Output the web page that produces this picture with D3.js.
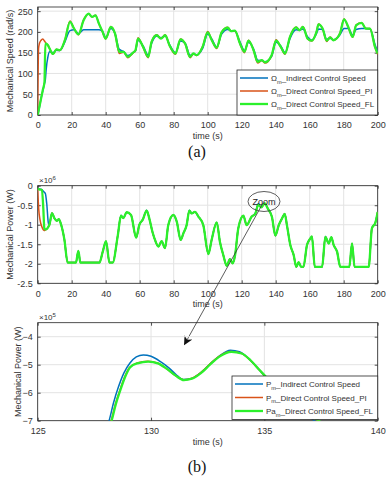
<!DOCTYPE html>
<html><head><meta charset="utf-8">
<script src="https://cdn.jsdelivr.net/npm/d3@7/dist/d3.min.js"></script>
<style>
html,body{margin:0;padding:0;background:#fff;}
svg{display:block;font-family:"Liberation Sans",Arial,sans-serif;}
</style></head>
<body><svg id="c" width="390" height="480"></svg>
<script>
// ---------- DATA ----------
const speedTime = [0,0.5,1,2,3,4,4.5,5,6,7, 9,11,13,16,19,21.4,24,27,30,32, 34,36,38,40,43,45.5,48,50.5,53,56, 57.5,59,62,65,67,70,72.5,75,77.5,81, 84,86.7,89.6,91.6,93.5,97,100,102.4,105.3,108.2, 111.8,113.7,116,119,121.6,124,127,129.4,131.8,133.7, 137.6,140.2,143,145.5,148.4,152,154,156,158.8,161.2, 164,165.2,167.6,170,172,174,177.8,180.2,182.7,185.3, 187.3,190.6,193,195.5,198.4,200];
const speedIndirect = [0,8,18,40,58,76,85,110,140,152, 150,156,155,176,203,205,196,205,205,205, 205,205,202,186,208,196,158,153,143,150, 154,180,166,144,172,190,186,190,170,150, 178,173,144,147,145,160,195,183,164,195, 206,203,202,176,155,175,159,132,131,128, 141,175,166,150,184,205,204,207,188,180, 196,207,206,182,185,181,193,208,208,192, 206,208,208,207,170,152];
const speedPI = [0,160,172,180,183,178,175,172,168,160, 146,158,155,181,226,208,193,229,244,236, 240,220,201,183,213,195,148,151,138,149, 155,186,163,138,177,193,184,193,167,146, 183,171,138,147,143,165,201,180,160,200, 211,202,203,171,150,180,155,125,131,125, 143,181,163,146,189,212,204,213,183,178, 201,219,207,177,188,180,197,231,211,187, 217,222,208,208,163,146];
const speedFL = [0,10,20,40,60,80,172,172,168,160, 147,158,156,180,224,208,194,228,244,236, 240,220,202,184,212,196,152,152,140,150, 156,184,164,140,176,192,184,192,168,148, 182,172,140,148,144,164,199,180,162,199, 210,202,203,172,152,179,156,128,132,127, 144,179,164,148,188,211,204,212,184,179, 200,218,208,179,187,180,196,230,212,188, 216,222,208,208,164,148];

// power in units of 1e6 W
const powerTime = [0,0.6,1.4,2.5,3.3,3.9,4.5,5.3,6.3,6.9, 8.4,9.8,11.2,12.4,13.8,15.7,17.6,22.5,23.9,25.1, 36.3,38.2,40.2,42.2,44.1,47.1,49,50.4,52.3,54.9, 57.9,59.8,61.8,64.1,65.7,67.6,69,71,72.9,74.9, 76.8,79.8,81.8,84.1,85.7,87.6,89.2,90.6,92.5,94.5, 97.4,100.4,102.3,105.3,107.2,109.2,111.2,113.1,114.7,116.1, 118,121,122.9,125.9,128,129.7,131.5,133.5,135.5,137.8, 139.8,141.8,143.7,145.3,146.6,148.6,150.6,152.1,153.5,155, 156.3,158.4,160.4,161.3,163,167.3,169.2,171.2,172.7,174.1, 176.1,178,183.3,184.9,186.4,194.7,196.6,198.6,200];
const powerIndirect = [-0.07,-0.08,-0.09,-0.1,-0.14,-0.17,-0.2,-0.45,-0.96,-1.0, -0.7,-0.83,-0.9,-0.86,-1.0,-1.38,-1.97,-1.97,-1.67,-1.97, -1.97,-1.7,-1.42,-1.97,-1.97,-1.28,-0.76,-0.83,-0.68,-0.75, -1.33,-1.0,-0.87,-0.63,-0.85,-1.2,-1.39,-1.56,-1.42,-1.6, -1.01,-0.75,-0.92,-1.39,-1.22,-1.01,-0.63,-0.71,-0.67,-0.79, -1.01,-1.75,-1.39,-0.94,-1.44,-1.78,-2.05,-1.88,-1.99,-1.78, -1.09,-0.77,-1.01,-0.79,-0.7,-0.465,-0.553,-0.448,-0.59,-0.8, -1.28,-1.01,-0.84,-0.72,-1.01,-1.52,-1.78,-2.08,-1.96,-2.08, -2.08,-1.52,-1.35,-1.3,-2.08,-2.08,-1.3,-1.48,-1.32,-1.52, -1.69,-2.08,-2.08,-1.48,-2.08,-2.08,-1.09,-0.95,-0.67];
const powerPI = [-0.07,-0.6,-0.88,-1.06,-1.13,-1.15,-1.13,-1.11,-1.05,-1.0, -0.7,-0.83,-0.9,-0.86,-1.0,-1.38,-1.97,-1.97,-1.67,-1.97, -1.97,-1.7,-1.42,-1.97,-1.97,-1.28,-0.77,-0.83,-0.68,-0.75, -1.33,-1.0,-0.87,-0.64,-0.85,-1.2,-1.39,-1.56,-1.42,-1.6, -1.01,-0.75,-0.92,-1.39,-1.22,-1.01,-0.64,-0.71,-0.67,-0.79, -1.01,-1.75,-1.39,-0.94,-1.44,-1.78,-2.05,-1.88,-1.99,-1.78, -1.09,-0.77,-1.01,-0.79,-0.72,-0.488,-0.554,-0.453,-0.6,-0.8, -1.28,-1.01,-0.84,-0.72,-1.01,-1.52,-1.78,-2.08,-1.96,-2.08, -2.08,-1.52,-1.35,-1.3,-2.08,-2.08,-1.31,-1.48,-1.32,-1.52, -1.69,-2.08,-2.08,-1.48,-2.08,-2.08,-1.09,-0.95,-0.67];
const powerFL = [-0.07,-0.09,-0.1,-0.11,-0.58,-1.09,-1.12,-1.11,-1.05,-1.0, -0.7,-0.83,-0.9,-0.86,-1.0,-1.38,-1.97,-1.97,-1.67,-1.97, -1.97,-1.7,-1.42,-1.97,-1.97,-1.28,-0.77,-0.83,-0.68,-0.75, -1.33,-1.0,-0.87,-0.64,-0.85,-1.2,-1.39,-1.56,-1.42,-1.6, -1.01,-0.75,-0.92,-1.39,-1.22,-1.01,-0.64,-0.71,-0.67,-0.79, -1.01,-1.75,-1.39,-0.94,-1.44,-1.78,-2.05,-1.88,-1.99,-1.78, -1.09,-0.77,-1.01,-0.79,-0.72,-0.49,-0.555,-0.454,-0.6,-0.8, -1.28,-1.01,-0.84,-0.72,-1.01,-1.52,-1.78,-2.08,-1.96,-2.08, -2.08,-1.52,-1.35,-1.3,-2.08,-2.08,-1.31,-1.48,-1.32,-1.52, -1.69,-2.08,-2.08,-1.48,-2.08,-2.08,-1.09,-0.95,-0.67];

// zoom view, units of 1e5 W
const zoomTimeIndirect = [127.9,128.15,128.35,128.56,128.8,129.07,129.35,129.66,130.0,130.4,130.8,131.1,131.42,131.8,132.2,132.6,133.0,133.5,133.9,134.3,134.7,135.1,135.6,136.1,136.6,137.2,137.6];
const zoomIndirect = [-7.6,-7.0,-6.35,-5.8,-5.3,-4.94,-4.72,-4.65,-4.7,-4.88,-5.12,-5.35,-5.53,-5.49,-5.28,-4.98,-4.7,-4.48,-4.54,-4.78,-5.12,-5.48,-5.92,-6.32,-6.66,-7.0,-7.3];
const zoomTimePI = [128.0,128.24,128.43,128.63,128.83,129.05,129.38,129.85,130.28,130.68,131.08,131.43,131.78,132.18,132.58,132.98,133.53,133.98,134.38,134.78,135.18,135.68,136.18,136.78,137.38,137.78];
const zoomPI = [-7.55,-7.0,-6.4,-5.9,-5.45,-5.1,-4.94,-4.88,-4.94,-5.14,-5.39,-5.54,-5.49,-5.29,-4.99,-4.71,-4.53,-4.59,-4.84,-5.19,-5.54,-5.99,-6.39,-6.74,-7.0,-7.3];
const zoomTimeFL = [128.0,128.26,128.45,128.65,128.85,129.07,129.4,129.88,130.3,130.7,131.1,131.45,131.8,132.2,132.6,133.0,133.55,134.0,134.4,134.8,135.2,135.7,136.2,136.8,137.4,137.8];
const zoomFL = [-7.6,-7.0,-6.4,-5.9,-5.45,-5.1,-4.95,-4.89,-4.95,-5.15,-5.4,-5.55,-5.5,-5.3,-5.0,-4.72,-4.54,-4.6,-4.85,-5.2,-5.55,-6.0,-6.4,-6.75,-7.0,-7.3];

const timeTicks = [0,20,40,60,80,100,120,140,160,180,200];
const speedTicks = [0,50,100,150,200,250];
const powerTicks = [0,-0.5,-1,-1.5,-2,-2.5];
const zoomTimeTicks = [125,130,135,140];
const zoomPowerTicks = [-4,-5,-6,-7];

const speedLegend = [["Ω","m","_Indirect Control Speed"],["Ω","m","_Direct Control Speed_PI"],["Ω","m","_Direct Control Speed_FL"]];
const powerLegend = [["P","m","_Indirect Control Speed"],["P","m","_Direct Control Speed_PI"],["Pa","m","_Direct Control Speed_FL"]];
const colors = ["#0072BD","#D95319","#2BF02B"];
const widths = [1.5,1.5,2.3];

// ---------- DRAW ----------
const svg = d3.select("#c");
const AX = "#262626", GRID = "#e3e3e3", TXT = "#333";
const L = 37.7, R = 377.7;

function panel(id, top, bottom, xdom, ydom, xticks, yticks, yfmt) {
  const x = d3.scaleLinear().domain(xdom).range([L, R]);
  const y = d3.scaleLinear().domain(ydom).range([bottom, top]);
  const g = svg.append("g");
  g.append("clipPath").attr("id", id).append("rect")
    .attr("x", L).attr("y", top).attr("width", R - L).attr("height", bottom - top);
  g.append("g").selectAll("line").data(xticks).join("line")
    .attr("x1", d => x(d)).attr("x2", d => x(d)).attr("y1", top).attr("y2", bottom)
    .attr("stroke", GRID).attr("stroke-width", 1);
  g.append("g").selectAll("line").data(yticks).join("line")
    .attr("y1", d => y(d)).attr("y2", d => y(d)).attr("x1", L).attr("x2", R)
    .attr("stroke", GRID).attr("stroke-width", 1);
  const xa = g.append("g").attr("transform", `translate(0,${bottom})`)
    .call(d3.axisBottom(x).tickValues(xticks).tickSizeInner(-3).tickSizeOuter(0).tickPadding(7));
  const ya = g.append("g").attr("transform", `translate(${L},0)`)
    .call(d3.axisLeft(y).tickValues(yticks).tickFormat(yfmt).tickSizeInner(-3).tickSizeOuter(0).tickPadding(5));
  const xt = g.append("g").attr("transform", `translate(0,${top})`)
    .call(d3.axisTop(x).tickValues(xticks).tickFormat("").tickSizeInner(-3).tickSizeOuter(0));
  const yr = g.append("g").attr("transform", `translate(${R},0)`)
    .call(d3.axisRight(y).tickValues(yticks).tickFormat("").tickSizeInner(-3).tickSizeOuter(0));
  [xa, ya, xt, yr].forEach(a => {
    a.select(".domain").remove();
    a.selectAll("line").attr("stroke", AX).attr("stroke-width", 0.8);
    a.selectAll("text").attr("fill", TXT).attr("font-size", 9).attr("font-family", "Liberation Sans, Arial, sans-serif");
  });
  g.append("rect").attr("x", L).attr("y", top).attr("width", R - L).attr("height", bottom - top)
    .attr("fill", "none").attr("stroke", AX).attr("stroke-width", 0.8);
  const lines = svg.append("g").attr("clip-path", `url(#${id})`);
  return {x, y, lines, g};
}

function drawSeries(p, xs, ys, i) {
  const pts = xs.map((t, k) => [t, ys[k]]);
  p.lines.append("path").datum(pts)
    .attr("d", d3.line().x(d => p.x(d[0])).y(d => p.y(d[1])).curve(d3.curveMonotoneX))
    .attr("fill", "none").attr("stroke", colors[i]).attr("stroke-width", widths[i])
    .attr("stroke-linejoin", "round");
}

function legend(x0, y0, w, h, entries, rows) {
  const g = svg.append("g");
  g.append("rect").attr("x", x0).attr("y", y0).attr("width", w).attr("height", h)
    .attr("fill", "#fff").attr("stroke", AX).attr("stroke-width", 0.8);
  entries.forEach((e, i) => {
    const yy = rows[i];
    g.append("line").attr("x1", x0 + 3).attr("x2", x0 + 31).attr("y1", yy).attr("y2", yy)
      .attr("stroke", colors[i]).attr("stroke-width", widths[i]);
    const t = g.append("text").attr("x", x0 + 34).attr("y", yy + 3).attr("font-size", 8).attr("fill", TXT);
    t.append("tspan").text(e[0]);
    t.append("tspan").attr("font-size", 5.6).attr("dy", 2.5).text(e[1]);
    t.append("tspan").attr("dy", -2.5).text(e[2]);
  });
}

function xlabel(txt, cx, yb) {
  svg.append("text").attr("x", cx).attr("y", yb).attr("text-anchor", "middle")
    .attr("font-size", 9).attr("fill", TXT).text(txt);
}
function ylabel(txt, x, cy) {
  svg.append("text").attr("transform", `translate(${x},${cy}) rotate(-90)`)
    .attr("text-anchor", "middle").attr("font-size", 9).attr("fill", TXT).text(txt);
}
function expo(x, y, e) {
  const t = svg.append("text").attr("x", x).attr("y", y).attr("font-size", 8).attr("fill", TXT);
  t.append("tspan").text("×10");
  t.append("tspan").attr("font-size", 6).attr("dy", -3.5).text(e);
}
function caption(txt, y) {
  svg.append("text").attr("x", 197).attr("y", y).attr("text-anchor", "middle")
    .attr("font-family", "Liberation Serif, Times New Roman, serif").attr("font-size", 16).attr("fill", "#111").text(txt);
}

// (a) speed
const pa = panel("clipA", 7, 115, [0, 200], [0, 260], timeTicks, speedTicks, d3.format("d"));
drawSeries(pa, speedTime, speedIndirect, 0);
drawSeries(pa, speedTime, speedPI, 1);
drawSeries(pa, speedTime, speedFL, 2);
legend(237, 70, R - 237, 115 - 70, speedLegend, [78, 91, 104]);
ylabel("Mechanical Speed  (rad/s)", 13, 61);
xlabel("time (s)", 207.7, 138.5);
caption("(a)", 157);

// (b) top power
const pb = panel("clipB", 185.7, 283.3, [0, 200], [-2.5, 0], timeTicks, powerTicks, d => d === 0 ? "0" : String(d));
drawSeries(pb, powerTime, powerIndirect, 0);
drawSeries(pb, powerTime, powerPI, 1);
drawSeries(pb, powerTime, powerFL, 2);
expo(39, 183, "6");
ylabel("Mechanical Power (W)", 13, 234.5);
xlabel("time (s)", 207.7, 306.5);

// zoom annotation
svg.append("defs").append("marker").attr("id", "arr").attr("viewBox", "0 0 10 10")
  .attr("refX", 9).attr("refY", 5).attr("markerWidth", 9).attr("markerHeight", 9)
  .attr("markerUnits", "userSpaceOnUse").attr("orient", "auto")
  .append("path").attr("d", "M0,0 L10,5 L0,10 L3,5 Z").attr("fill", "#111");
svg.append("ellipse").attr("cx", 264).attr("cy", 201.5).attr("rx", 16).attr("ry", 10)
  .attr("fill", "none").attr("stroke", "#333").attr("stroke-width", 0.8);
svg.append("text").attr("x", 264).attr("y", 204.5).attr("text-anchor", "middle")
  .attr("font-size", 9).attr("fill", "#222").text("Zoom");
svg.append("line").attr("x1", 263).attr("y1", 203).attr("x2", 184.5).attr("y2", 344.5)
  .attr("stroke", "#333").attr("stroke-width", 0.8).attr("marker-end", "url(#arr)");

// (b) bottom zoom
const pc = panel("clipC", 322.7, 420.7, [125, 140], [-7, -3.5], zoomTimeTicks, zoomPowerTicks, d3.format("d"));
drawSeries(pc, zoomTimeIndirect, zoomIndirect, 0);
drawSeries(pc, zoomTimePI, zoomPI, 1);
drawSeries(pc, zoomTimeFL, zoomFL, 2);
legend(232, 376, R - 232, 419.5 - 376, powerLegend, [384, 397.5, 411]);
expo(39, 320, "5");
ylabel("Mechanical Power (W)", 21, 371.7);
xlabel("time (s)", 207.7, 445);
caption("(b)", 472);
</script></body></html>
